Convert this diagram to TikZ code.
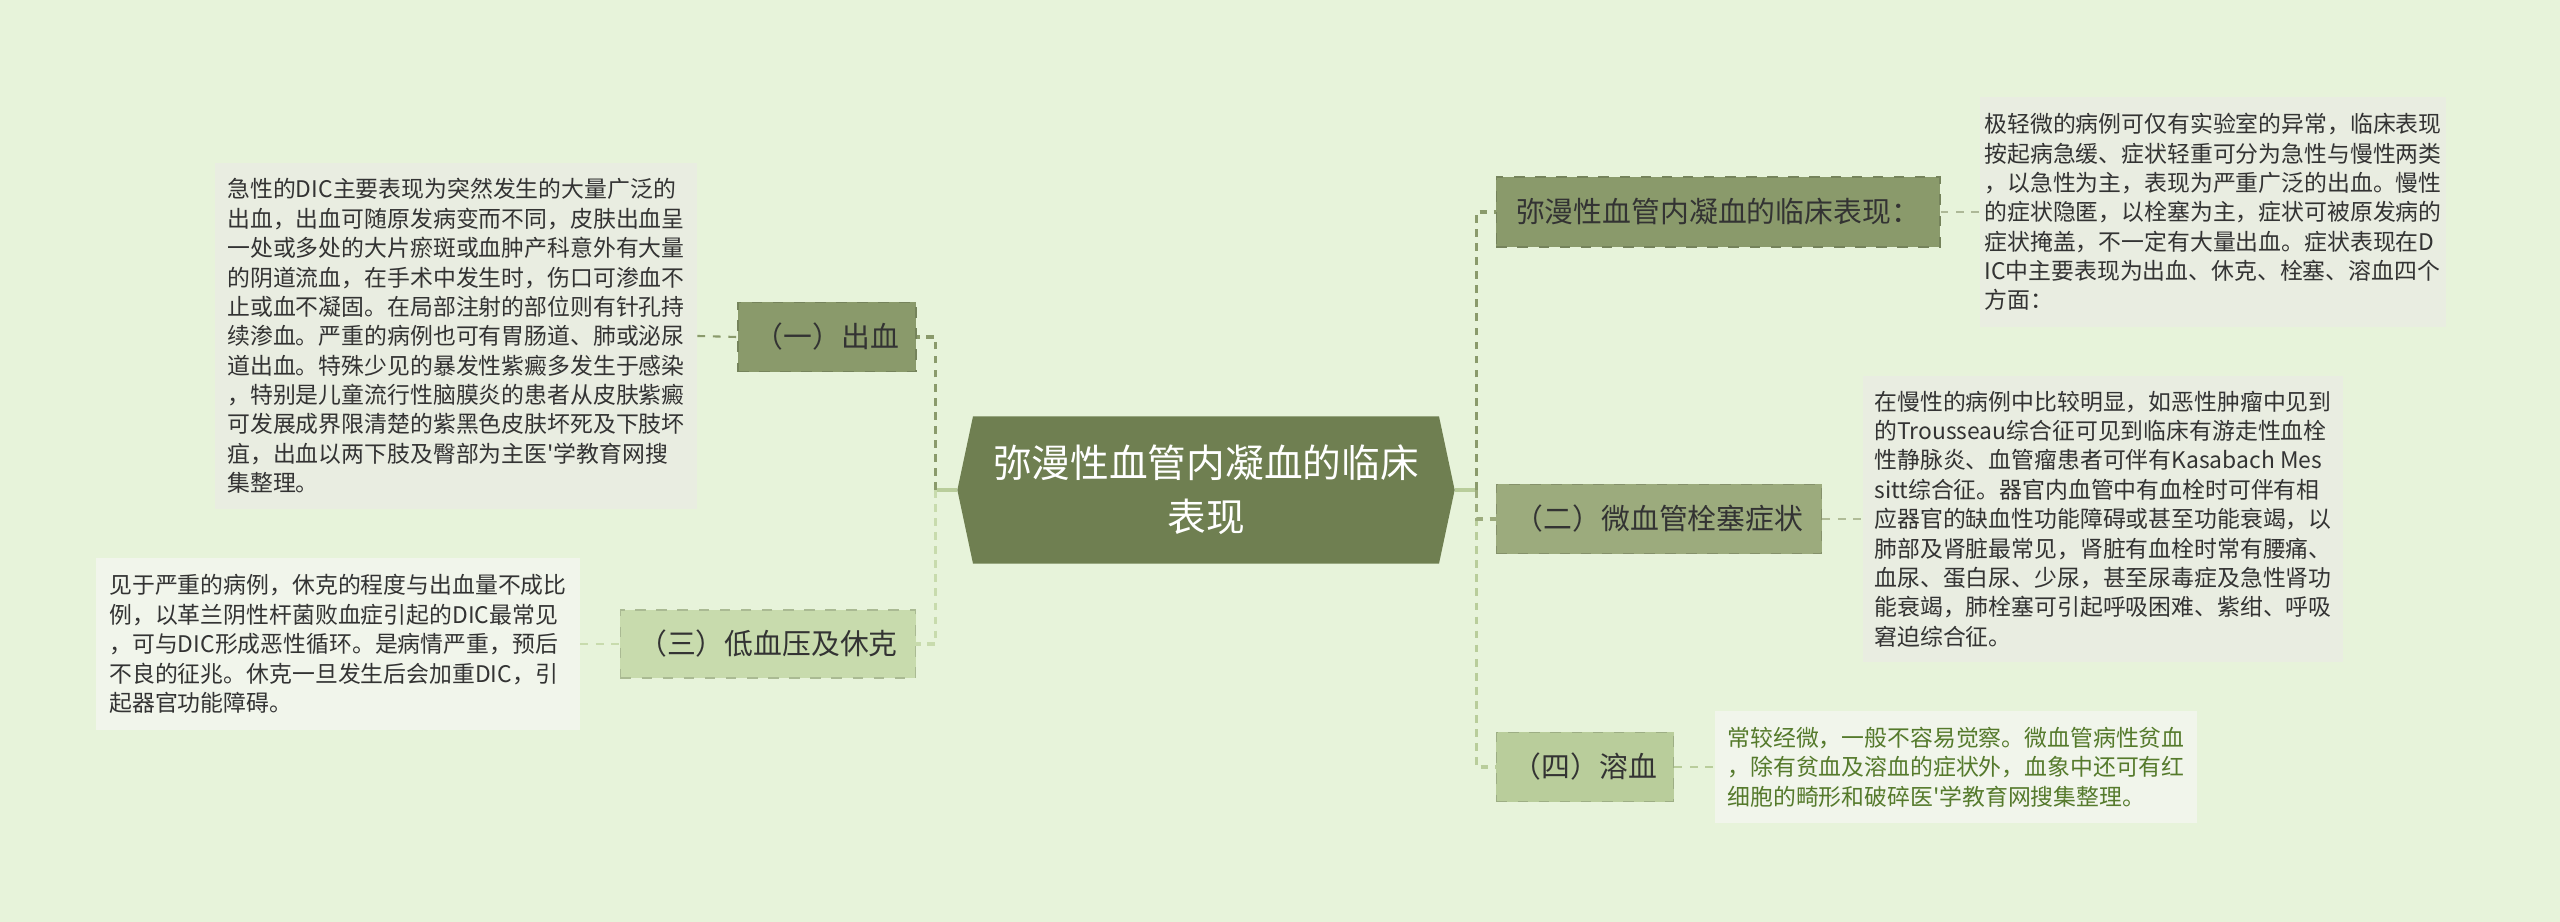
\documentclass[tikz,border=0pt]{standalone}
\usepackage{fontspec}
\newfontfamily\cjk{Noto Sans CJK SC}
\usetikzlibrary{shapes.symbols}

\definecolor{bgc}{HTML}{E7F3DA}
\definecolor{rootc}{HTML}{6F7F51}
\definecolor{darkc}{HTML}{8A9A6B}
\definecolor{midc}{HTML}{9CAB7D}
\definecolor{lightc}{HTML}{C8DBAD}
\definecolor{palec}{HTML}{B9CD9B}
\definecolor{notec}{HTML}{E9EDE1}
\definecolor{softc}{HTML}{F1F5EB}
\definecolor{inkc}{HTML}{333333}
\definecolor{greenink}{HTML}{557A2C}

\begin{document}
\begin{tikzpicture}[x=0.01cm, y=-0.01cm,
    every node/.style={font=\cjk, text=inkc},
    topic/.style={draw=#1!85!black, dashed, line width=0.5pt, fill=#1, minimum height=0.69cm, font=\cjk\fontsize{8.2}{10}\selectfont, inner sep=0pt},
    note/.style={fill=#1, align=left, inner sep=0pt, font=\cjk\fontsize{6.5}{8.35}\selectfont},
    stub/.style={draw=palec, line width=0.9pt},
    link/.style={draw=#1, dashed, dash pattern=on 2.2pt off 1.8pt, line width=0.9pt},
    notelink/.style={draw=#1, dashed, dash pattern=on 2.2pt off 2.2pt, line width=0.6pt}]
    \fill[bgc] (0,0) rectangle (2560,922);
    \useasboundingbox (0,0) rectangle (2560,922);

    \node[shape=signal, signal to=west and east, signal pointer angle=156, fill=rootc, minimum width=4.97cm, minimum height=1.47cm, inner sep=0pt, text=white, align=center, font=\cjk\fontsize{11}{15.4}\selectfont] (root) at (1206,490) {弥漫性血管内凝血的临床\\表现};

    \node[topic=darkc, minimum width=1.78cm] (n1) at (827,337) {（一）出血};
    \node[topic=lightc, minimum width=2.95cm, minimum height=0.68cm] (n3) at (768,644) {（三）低血压及休克};
    \node[topic=darkc, minimum width=4.43cm, minimum height=0.70cm] (r0) at (1718,212) {弥漫性血管内凝血的临床表现：};
    \node[topic=midc, minimum width=3.25cm] (n2) at (1659,519) {（二）微血管栓塞症状};
    \node[topic=palec, minimum width=1.77cm] (n4) at (1585,767) {（四）溶血};

    \node[note=notec, minimum width=4.81cm, minimum height=3.46cm] (dA) at (456,336) {急性的DIC主要表现为突然发生的大量广泛的\\出血，出血可随原发病变而不同，皮肤出血呈\\一处或多处的大片瘀斑或血肿产科意外有大量\\的阴道流血，在手术中发生时，伤口可渗血不\\止或血不凝固。在局部注射的部位则有针孔持\\续渗血。严重的病例也可有胃肠道、肺或泌尿\\道出血。特殊少见的暴发性紫癜多发生于感染\\，特别是儿童流行性脑膜炎的患者从皮肤紫癜\\可发展成界限清楚的紫黑色皮肤坏死及下肢坏\\疽，出血以两下肢及臀部为主医'学教育网搜\\集整理。};
    \node[note=softc, minimum width=4.83cm, minimum height=1.72cm] (dB) at (338,644) {见于严重的病例，休克的程度与出血量不成比\\例，以革兰阴性杆菌败血症引起的DIC最常见\\，可与DIC形成恶性循环。是病情严重，预后\\不良的征兆。休克一旦发生后会加重DIC，引\\起器官功能障碍。};
    \node[note=notec, minimum width=4.66cm, minimum height=2.29cm] (dC) at (2213,212) {极轻微的病例可仅有实验室的异常，临床表现\\按起病急缓、症状轻重可分为急性与慢性两类\\，以急性为主，表现为严重广泛的出血。慢性\\的症状隐匿，以栓塞为主，症状可被原发病的\\症状掩盖，不一定有大量出血。症状表现在D\\IC中主要表现为出血、休克、栓塞、溶血四个\\方面：};
    \node[note=notec, minimum width=4.80cm, minimum height=2.85cm] (dD) at (2103,519) {在慢性的病例中比较明显，如恶性肿瘤中见到\\的Trousseau综合征可见到临床有游走性血栓\\性静脉炎、血管瘤患者可伴有Kasabach Mes\\sitt综合征。器官内血管中有血栓时可伴有相\\应器官的缺血性功能障碍或甚至功能衰竭，以\\肺部及肾脏最常见，肾脏有血栓时常有腰痛、\\血尿、蛋白尿、少尿，甚至尿毒症及急性肾功\\能衰竭，肺栓塞可引起呼吸困难、紫绀、呼吸\\窘迫综合征。};
    \node[note=softc, minimum width=4.82cm, minimum height=1.12cm, text=greenink] (dE) at (1956,767) {常较经微，一般不容易觉察。微血管病性贫血\\，除有贫血及溶血的症状外，血象中还可有红\\细胞的畸形和破碎医'学教育网搜集整理。};

    \draw[stub] (root.west) -- ++(-21,0) coordinate (lj);
    \draw[link=lightc] (lj) |- (n3.east);
    \draw[link=darkc] (lj) |- (n1.east);
    \draw[stub] (root.east) -- ++(21,0) coordinate (rj);
    \draw[link=palec] (rj) |- (n4.west);
    \draw[link=midc] (rj) |- (n2.west);
    \draw[link=darkc] (rj) |- (r0.west);

    \draw[notelink=darkc] (dA.east) -- (n1.west);
    \draw[notelink=lightc] (dB.east) -- (n3.west);
    \draw[notelink=darkc!70] (r0.east) -- (dC.west);
    \draw[notelink=midc!80] (n2.east) -- (dD.west);
    \draw[notelink=palec] (n4.east) -- (dE.west);
\end{tikzpicture}
\end{document}
